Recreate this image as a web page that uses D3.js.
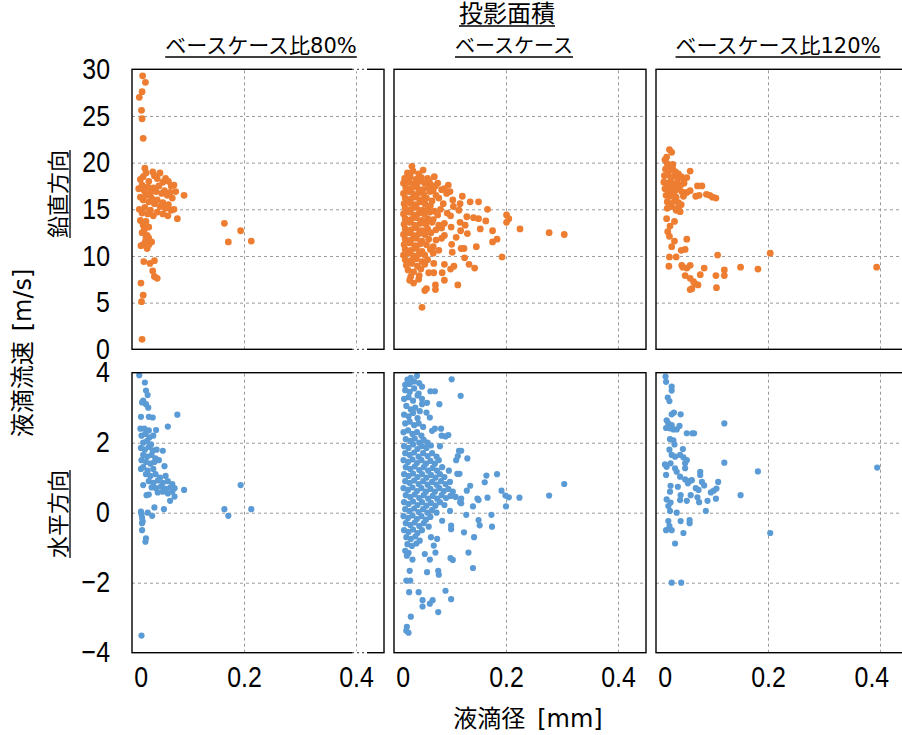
<!DOCTYPE html>
<html>
<head>
<meta charset="utf-8">
<script src="https://cdn.jsdelivr.net/npm/d3@7"></script>
<style>
  body { margin: 0; background: #fff; }
  .tick text { font-family: "Liberation Sans", Arial, sans-serif; font-size: 29px; fill: #000; }
  .grid line { stroke: #9a9a9a; stroke-dasharray: 3,3; }
  .grid path { display: none; }
  .jp { font-family: "DejaVu Sans", "Noto Sans CJK JP", sans-serif; fill: #000; }
</style>
</head>
<body>
<div id="chart"></div>
<script>
// column / row headings
const colTitles = ["ベースケース比80%", "ベースケース", "ベースケース比120%"];
const groupTitle = "投影面積";
const rowTitles = ["鉛直方向", "水平方向"];
const yTitle = "液滴流速";
const yUnit = "[m/s]";
const xTitle = "液滴径";
const xUnit = "[mm]";

const xTicks = [0, 0.2, 0.4];
const vTicks = [0, 5, 10, 15, 20, 25, 30];
const hTicks = [-4, -2, 0, 2, 4];

// droplet diameter [mm], velocity [m/s]
const vert80 = [[0.019,29.3],[0.024,28.6],[0.018,27.6],[0.013,27.0],[0.017,25.6],[0.018,24.7],[0.020,22.6],[0.023,19.4],
  [0.015,18.2],[0.02,18.5],[0.025,18.9],[0.03,18.0],[0.037,19.0],[0.04,18.6],[0.045,18.3],[0.05,18.9],[0.055,17.9],[0.06,18.3],[0.065,18.0],[0.07,17.5],[0.075,17.6],
  [0.012,17.2],[0.018,17.6],[0.022,17.0],[0.028,17.4],[0.033,16.8],[0.038,17.3],[0.043,16.9],[0.048,17.5],[0.053,16.7],[0.058,17.0],[0.063,16.5],[0.068,16.8],[0.072,16.2],[0.078,16.9],[0.093,16.5],
  [0.015,16.3],[0.02,16.0],[0.025,16.5],[0.03,15.8],[0.035,16.2],[0.04,15.6],[0.045,16.0],[0.05,15.3],[0.055,15.7],[0.06,15.1],[0.065,15.5],[0.07,14.9],[0.075,15.0],
  [0.013,15.0],[0.018,14.6],[0.023,15.2],[0.028,14.5],[0.033,14.9],[0.038,14.3],[0.045,14.7],[0.055,14.5],[0.064,14.3],[0.081,14.0],
  [0.015,13.8],[0.02,13.3],[0.025,13.7],[0.03,13.1],[0.022,12.8],[0.018,12.5],[0.027,12.2],[0.03,11.9],[0.024,11.6],[0.02,11.2],[0.016,11.1],[0.027,10.8],[0.03,11.2],[0.035,11.5],[0.025,12.0],
  [0.021,9.4],[0.032,9.2],[0.040,9.5],[0.037,8.4],[0.040,7.8],[0.045,7.6],[0.016,7.1],[0.020,5.8],[0.017,5.1],[0.018,1.07],
  [0.165,13.5],[0.194,12.7],[0.172,11.5],[0.213,11.6]];

const vertBase = [[0.024,18.9],[0.034,19.1],[0.044,18.8],[0.032,19.6],[0.052,19.2],
  [0.019,18.3],[0.029,18.5],[0.039,18.2],[0.049,18.4],[0.06,18.3],[0.072,18.5],[0.063,18.0],
  [0.017,17.8],[0.027,17.9],[0.036,17.7],[0.046,18.0],[0.055,17.8],[0.066,17.6],[0.078,17.8],[0.074,17.5],[0.097,17.6],[0.09,17.2],
  [0.021,17.3],[0.031,17.2],[0.041,17.4],[0.051,17.1],[0.06,17.3],[0.07,17.0],[0.085,17.1],[0.1,16.9],
  [0.017,16.7],[0.026,16.9],[0.035,16.6],[0.044,16.8],[0.053,16.6],[0.064,16.9],[0.075,16.5],[0.094,16.7],[0.122,16.4],
  [0.02,16.2],[0.03,16.1],[0.04,16.3],[0.05,16.0],[0.058,16.2],[0.068,15.9],[0.08,16.2],[0.105,16.0],[0.136,15.8],[0.151,15.8],
  [0.018,15.6],[0.028,15.7],[0.037,15.5],[0.046,15.8],[0.055,15.6],[0.065,15.4],[0.088,15.6],[0.118,15.6],[0.106,15.3],
  [0.02,15.1],[0.03,15.0],[0.04,15.2],[0.05,14.9],[0.06,15.1],[0.072,14.8],[0.083,15.0],[0.167,15.0],[0.116,14.9],
  [0.017,14.5],[0.026,14.7],[0.035,14.4],[0.045,14.6],[0.054,14.5],[0.064,14.7],[0.078,14.4],[0.095,14.6],[0.101,14.3],[0.201,14.4],
  [0.02,14.0],[0.03,13.9],[0.04,14.1],[0.05,13.8],[0.06,14.0],[0.07,13.9],[0.13,14.2],[0.142,14.1],[0.151,14.0],[0.205,14.0],
  [0.018,13.4],[0.028,13.6],[0.037,13.3],[0.047,13.5],[0.057,13.4],[0.068,13.6],[0.08,13.3],[0.09,13.5],[0.118,13.6],[0.127,13.3],[0.164,13.75],[0.201,13.6],
  [0.02,12.9],[0.03,12.8],[0.04,13.0],[0.05,12.7],[0.06,12.9],[0.075,12.8],[0.085,13.0],[0.102,13.1],[0.154,12.9],[0.119,12.7],[0.176,12.7],[0.225,12.9],
  [0.017,12.3],[0.026,12.5],[0.035,12.2],[0.045,12.4],[0.055,12.3],[0.066,12.5],[0.09,12.2],[0.131,12.4],[0.111,12.0],[0.277,12.5],[0.304,12.3],
  [0.02,11.8],[0.03,11.7],[0.04,11.9],[0.05,11.6],[0.062,11.8],[0.075,11.7],[0.085,11.9],[0.184,11.8],[0.176,11.5],[0.103,11.25],
  [0.018,11.2],[0.028,11.4],[0.037,11.1],[0.047,11.3],[0.058,11.2],[0.07,11.0],[0.147,11.0],
  [0.02,10.7],[0.03,10.6],[0.04,10.8],[0.05,10.5],[0.065,10.7],[0.08,10.6],[0.125,10.8],[0.12,10.8],[0.104,10.4],
  [0.017,10.1],[0.026,10.3],[0.035,10.0],[0.045,10.2],[0.055,10.1],[0.07,10.3],[0.193,9.9],[0.126,9.8],
  [0.02,9.6],[0.03,9.5],[0.04,9.7],[0.05,9.4],[0.06,9.6],[0.071,9.2],[0.09,9.1],[0.134,9.1],
  [0.022,9.0],[0.032,9.2],[0.042,8.9],[0.055,9.1],[0.107,8.9],[0.101,8.6],[0.144,8.7],
  [0.025,8.5],[0.035,8.3],[0.048,8.6],[0.062,8.2],[0.071,8.2],[0.086,8.2],
  [0.03,7.8],[0.045,7.9],[0.028,7.4],[0.044,7.5],[0.09,7.4],[0.035,7.1],
  [0.114,6.9],[0.074,6.9],[0.074,6.4],[0.055,6.3],[0.058,6.5],[0.05,4.5]];

const vert120 = [[0.024,21.4],[0.028,21.1],[0.019,20.6],[0.016,20.3],
  [0.02,19.9],[0.025,19.6],[0.03,19.8],[0.017,19.3],[0.023,19.1],[0.03,19.3],[0.035,19.0],[0.04,18.8],[0.061,19.1],
  [0.015,18.6],[0.021,18.7],[0.027,18.4],[0.033,18.6],[0.039,18.3],[0.045,18.5],[0.05,18.2],[0.055,18.4],
  [0.014,17.9],[0.02,17.8],[0.026,18.0],[0.032,17.7],[0.038,17.9],[0.044,17.6],[0.05,17.8],[0.074,17.5],[0.082,17.5],
  [0.016,17.2],[0.022,17.1],[0.028,17.3],[0.034,17.0],[0.04,17.2],[0.046,16.9],[0.061,17.0],[0.055,16.8],
  [0.018,16.5],[0.024,16.4],[0.03,16.6],[0.036,16.3],[0.049,16.4],[0.071,16.4],[0.077,16.5],[0.09,16.6],[0.096,16.5],[0.101,16.3],[0.107,16.2],
  [0.02,15.8],[0.026,15.6],[0.033,15.9],[0.04,15.7],[0.045,15.5],
  [0.02,15.1],[0.028,15.3],[0.036,14.9],[0.043,14.75],[0.04,15.2],
  [0.019,14.0],[0.033,13.7],[0.025,13.2],[0.021,12.6],[0.024,12.1],[0.033,11.6],[0.055,11.8],[0.028,11.0],[0.045,10.6],[0.052,10.7],
  [0.024,9.9],[0.036,9.9],[0.023,8.9],[0.046,9.0],[0.048,8.8],[0.061,9.0],[0.055,8.7],[0.086,8.7],[0.11,10.1],[0.204,10.3],
  [0.151,8.8],[0.182,8.6],[0.394,8.8],[0.122,8.5],[0.122,7.9],[0.107,7.9],[0.108,6.6],[0.079,8.0],[0.075,6.9],[0.052,7.9],
  [0.061,7.6],[0.067,7.25],[0.061,6.4],[0.064,6.5],[0.07,7.0]];

const horiz80 = [[0.013,3.93],[0.023,3.72],[0.025,3.49],[0.028,3.36],[0.02,3.2],[0.025,3.1],[0.029,3.0],[0.018,3.15],[0.03,2.74],[0.037,2.72],[0.016,2.74],[0.081,2.8],[0.064,2.46],
  [0.015,2.4],[0.022,2.4],[0.03,2.35],[0.043,2.36],
  [0.017,2.2],[0.024,2.25],[0.031,2.15],[0.038,2.2],[0.02,2.0],[0.027,2.05],[0.034,1.95],[0.016,1.85],[0.023,1.8],[0.03,1.88],[0.037,1.78],[0.044,1.8],[0.055,1.77],
  [0.02,1.65],[0.027,1.6],[0.035,1.65],[0.042,1.55],[0.017,1.5],[0.025,1.45],[0.033,1.4],[0.04,1.45],[0.048,1.5],[0.058,1.33],[0.02,1.3],[0.016,1.25],[0.028,1.2],[0.038,1.25],
  [0.025,1.1],[0.033,1.05],[0.042,1.1],[0.05,1.0],[0.06,1.05],[0.03,0.9],[0.038,0.85],[0.046,0.92],[0.055,0.85],[0.064,0.9],[0.072,0.82],
  [0.035,0.72],[0.043,0.7],[0.052,0.75],[0.06,0.68],[0.068,0.72],[0.076,0.7],[0.046,0.58],[0.055,0.6],[0.064,0.55],[0.072,0.6],[0.093,0.65],[0.076,0.46],[0.068,0.34],
  [0.026,0.5],[0.03,0.52],[0.02,0.79],
  [0.04,0.15],[0.057,0.1],[0.016,0.03],[0.017,-0.05],[0.018,-0.15],[0.019,-0.25],[0.018,-0.3],[0.028,0.0],[0.036,-0.09],[0.018,-0.5],[0.025,-0.73],[0.024,-0.83],
  [0.017,-3.51],[0.165,0.1],[0.194,0.79],[0.172,-0.09],[0.213,0.1]];

const horizBase = [[0.041,3.91],[0.103,3.81],[0.024,3.8],[0.03,3.85],[0.036,3.75],[0.045,3.7],[0.02,3.65],[0.028,3.68],[0.05,3.6],[0.065,3.47],[0.073,3.47],[0.119,3.34],[0.059,3.14],[0.081,3.1],
  [0.02,3.5],[0.028,3.45],[0.036,3.55],[0.044,3.4],
  [0.018,3.25],[0.026,3.3],[0.034,3.2],[0.042,3.35],[0.05,3.25],
  [0.022,3.05],[0.03,2.95],[0.038,3.0],[0.046,2.9],[0.05,3.1],
  [0.018,2.8],[0.026,2.75],[0.034,2.85],[0.042,2.7],[0.058,2.86],[0.064,2.72],
  [0.02,2.55],[0.028,2.6],[0.036,2.5],[0.044,2.55],[0.052,2.45],
  [0.017,2.3],[0.025,2.35],[0.033,2.25],[0.041,2.3],[0.049,2.2],[0.068,2.34],[0.073,2.4],[0.084,2.4],[0.085,2.2],[0.092,2.18],[0.097,2.22],
  [0.021,2.1],[0.029,2.05],[0.037,2.12],[0.045,2.0],[0.053,2.08],[0.06,2.0],
  [0.018,1.9],[0.026,1.85],[0.034,1.95],[0.042,1.82],[0.05,1.9],[0.058,1.85],[0.066,1.92],[0.082,1.9],
  [0.02,1.7],[0.028,1.65],[0.036,1.72],[0.044,1.6],[0.052,1.7],[0.06,1.62],[0.068,1.7],[0.076,1.6],[0.116,1.77],[0.12,1.77],[0.114,1.62],[0.111,1.5],[0.131,1.55],
  [0.017,1.5],[0.025,1.45],[0.033,1.52],[0.041,1.42],[0.049,1.5],[0.057,1.4],[0.065,1.48],[0.073,1.4],[0.08,1.5],
  [0.021,1.3],[0.029,1.25],[0.037,1.32],[0.045,1.22],[0.053,1.3],[0.061,1.2],[0.069,1.28],[0.077,1.2],[0.086,1.3],[0.098,1.2],
  [0.018,1.1],[0.026,1.05],[0.034,1.12],[0.042,1.02],[0.05,1.1],[0.058,1.0],[0.066,1.08],[0.074,1.0],[0.082,1.1],[0.09,1.02],[0.113,1.11],[0.117,1.11],[0.165,1.06],[0.184,1.1],
  [0.02,0.9],[0.028,0.85],[0.036,0.92],[0.044,0.82],[0.052,0.9],[0.06,0.8],[0.068,0.88],[0.076,0.8],[0.084,0.9],[0.092,0.82],[0.1,0.88],[0.162,0.87],[0.304,0.82],
  [0.017,0.7],[0.025,0.65],[0.033,0.72],[0.041,0.62],[0.049,0.7],[0.057,0.6],[0.065,0.68],[0.073,0.6],[0.081,0.7],[0.089,0.62],[0.097,0.68],[0.105,0.6],[0.136,0.77],[0.13,0.63],[0.192,0.63],
  [0.021,0.5],[0.029,0.45],[0.037,0.52],[0.045,0.42],[0.053,0.5],[0.061,0.4],[0.069,0.48],[0.077,0.4],[0.085,0.5],[0.093,0.42],[0.101,0.48],[0.11,0.45],[0.199,0.49],[0.205,0.44],[0.224,0.43],[0.277,0.49],[0.167,0.43],[0.149,0.4],[0.151,0.36],[0.12,0.4],
  [0.018,0.3],[0.026,0.25],[0.034,0.32],[0.042,0.22],[0.05,0.3],[0.058,0.2],[0.066,0.28],[0.074,0.2],[0.082,0.3],[0.09,0.22],[0.12,0.27],[0.118,0.3],
  [0.02,0.1],[0.028,0.05],[0.036,0.12],[0.044,0.02],[0.052,0.1],[0.06,0.0],[0.068,0.08],[0.076,0.0],[0.1,0.05],[0.141,0.18],[0.2,0.18],
  [0.017,-0.1],[0.025,-0.15],[0.033,-0.08],[0.041,-0.18],[0.049,-0.1],[0.057,-0.2],[0.065,-0.12],[0.129,-0.06],[0.174,-0.06],[0.086,-0.23],
  [0.021,-0.3],[0.029,-0.35],[0.037,-0.28],[0.045,-0.38],[0.053,-0.3],[0.062,-0.4],[0.151,-0.21],[0.153,-0.36],[0.175,-0.4],[0.102,-0.37],[0.102,-0.47],
  [0.018,-0.5],[0.026,-0.55],[0.034,-0.48],[0.042,-0.58],[0.05,-0.5],[0.125,-0.56],
  [0.022,-0.7],[0.03,-0.75],[0.038,-0.68],[0.046,-0.8],[0.066,-0.7],[0.077,-0.75],[0.143,-0.7],
  [0.024,-0.9],[0.032,-0.95],[0.04,-0.88],[0.071,-0.94],
  [0.02,-1.09],[0.026,-1.15],[0.033,-1.34],[0.074,-1.14],[0.064,-1.34],[0.055,-1.18],[0.133,-1.14],[0.101,-1.3],[0.105,-1.35],[0.023,-1.23],
  [0.141,-1.58],[0.079,-1.66],[0.08,-1.77],[0.059,-1.7],[0.028,-1.66],[0.022,-1.94],[0.029,-1.94],[0.027,-2.27],[0.044,-2.27],[0.092,-2.23],
  [0.102,-2.47],[0.051,-2.5],[0.051,-2.68],[0.064,-2.6],[0.069,-2.5],[0.079,-2.84],[0.03,-2.97],[0.023,-3.26],[0.022,-3.37],[0.026,-3.43]];

const horiz120 = [[0.017,3.89],[0.018,3.74],[0.028,3.6],[0.028,3.49],[0.021,3.29],[0.024,3.19],[0.028,2.81],[0.032,2.86],[0.044,2.81],
  [0.019,2.64],[0.022,2.55],[0.018,2.42],[0.025,2.41],[0.031,2.38],[0.037,2.38],[0.042,2.48],[0.028,2.5],[0.122,2.55],[0.055,2.27],[0.065,2.27],[0.068,2.27],
  [0.025,2.1],[0.031,2.07],[0.033,1.95],[0.048,1.82],[0.024,1.8],[0.028,1.65],[0.034,1.6],[0.043,1.65],[0.049,1.58],[0.055,1.5],[0.052,1.41],
  [0.016,1.38],[0.019,1.31],[0.026,1.41],[0.034,1.27],[0.037,1.17],[0.052,1.27],[0.018,1.08],[0.122,1.43],[0.182,1.18],[0.395,1.29],[0.079,1.17],[0.079,1.08],
  [0.043,1.03],[0.052,0.95],[0.061,0.91],[0.064,0.93],[0.057,0.84],[0.082,0.88],[0.086,0.78],[0.111,0.88],[0.108,0.69],[0.103,0.63],[0.098,0.58],
  [0.026,0.77],[0.025,0.6],[0.039,0.74],[0.071,0.7],[0.076,0.65],[0.062,0.5],[0.044,0.5],[0.074,0.44],[0.077,0.3],[0.043,0.36],[0.055,0.34],[0.092,0.34],[0.107,0.4],[0.151,0.5],
  [0.019,0.38],[0.026,0.29],[0.022,0.19],[0.025,0.05],[0.037,0.0],[0.089,0.05],[0.044,-0.24],[0.06,-0.21],[0.06,-0.3],[0.022,-0.24],[0.024,-0.38],
  [0.018,-0.5],[0.028,-0.5],[0.049,-0.58],[0.204,-0.58],[0.034,-0.88],[0.028,-2.0],[0.045,-2.0]];

const vertSets = [vert80, vertBase, vert120];
const horizSets = [horiz80, horizBase, horiz120];
const vertColor = "#ED7D31", horizColor = "#5B9BD5";

window.onload = () => {
  var W = 902, H = 735,
    panelX = [132, 394, 656],
    panelW = 252,
    rowY = [69.3, 372.7],
    panelH = 280;

  var svg = d3.select("#chart").append("svg")
    .attr("width", W)
    .attr("height", H);

  var x = d3.scaleLinear().domain([0, 0.45]).range([0, panelW]);
  var yV = d3.scaleLinear().domain([0, 30]).range([panelH, 0]);
  var yH = d3.scaleLinear().domain([-4, 4]).range([panelH, 0]);

  var rows = [
    { y: yV, ticks: vTicks, sets: vertSets, color: vertColor, r: 3.4 },
    { y: yH, ticks: hTicks, sets: horizSets, color: horizColor, r: 3.1 }
  ];

  // squeeze tick digits horizontally (narrow face)
  function narrow(sel) {
    sel.each(function() {
      var t = d3.select(this);
      var tx = +t.attr("x") || 0;
      t.attr("x", 0).attr("transform", "translate(" + tx + ",0) scale(0.86,1)");
    });
  }

  rows.forEach((row, ri) => {
    panelX.forEach((px, ci) => {
      var g = svg.append("g").attr("transform", "translate(" + px + "," + rowY[ri] + ")");

      // dashed grid
      g.append("g").attr("class", "grid")
        .call(d3.axisLeft(row.y).tickValues(row.ticks.slice(1, -1)).tickSize(-panelW).tickFormat(""));
      g.append("g").attr("class", "grid")
        .attr("transform", "translate(0," + panelH + ")")
        .call(d3.axisBottom(x).tickValues(xTicks.slice(1)).tickSize(panelH).tickFormat(""))
        .selectAll("line").attr("y2", -panelH);

      // points
      g.append("g").selectAll("circle")
        .data(row.sets[ci])
        .join("circle")
        .attr("cx", d => x(d[0]))
        .attr("cy", d => row.y(d[1]))
        .attr("r", row.r)
        .attr("fill", row.color);

      // frame
      g.append("rect")
        .attr("width", panelW).attr("height", panelH)
        .attr("fill", "none").attr("stroke", "#000").attr("stroke-width", 1.4);

      // axis-break marks on the first column
      if (ci == 0) {
        [0, panelH].forEach(yy => {
          g.append("rect").attr("x", 220).attr("y", yy - 2).attr("width", 15).attr("height", 4).attr("fill", "#fff");
          g.append("line").attr("x1", 220).attr("x2", 235).attr("y1", yy).attr("y2", yy)
            .attr("stroke", "#555").attr("stroke-width", 1.2).attr("stroke-dasharray", "2,3");
        });
      }

      // y labels only on the left column
      if (ci == 0) {
        var ya = g.append("g").call(d3.axisLeft(row.y).tickValues(row.ticks).tickSize(0).tickPadding(22));
        ya.select(".domain").remove();
        narrow(ya.selectAll("text"));
      }

      // x labels on the bottom row
      if (ri == 1) {
        var xa = g.append("g")
          .attr("transform", "translate(0," + panelH + ")")
          .call(d3.axisBottom(x).tickValues(xTicks).tickSize(0).tickPadding(14).tickFormat(d3.format("")));
        xa.select(".domain").remove();
        xa.selectAll("text").attr("dx", (d, i) => i == 0 ? 10 : (ci == 2 && i == 2 ? -10 : 0));
        narrow(xa.selectAll("text"));
      }
    });
  });

  // underlined label helper
  function label(parent, text, cls, size, tx, ty, rotate) {
    var g = parent.append("g").attr("transform", "translate(" + tx + "," + ty + ")" + (rotate ? " rotate(-90)" : ""));
    var t = g.append("text").attr("class", cls).attr("text-anchor", "middle")
      .style("font-size", size + "px").text(text);
    var w = t.node().getComputedTextLength();
    g.append("line").attr("x1", -w / 2).attr("x2", w / 2).attr("y1", 4).attr("y2", 4)
      .attr("stroke", "#000").attr("stroke-width", 1.3);
    return g;
  }

  // column titles
  label(svg, colTitles[0], "jp", 21, 261, 53);
  label(svg, colTitles[1], "jp", 20, 514, 53);
  label(svg, colTitles[2], "jp", 21, 778, 53);
  label(svg, groupTitle, "jp", 24, 507, 22);

  // row titles
  label(svg, rowTitles[0], "jp", 22, 66, 194, true);
  label(svg, rowTitles[1], "jp", 22, 66, 514, true);

  // y axis title
  var yt = svg.append("text").attr("class", "jp")
    .attr("transform", "translate(31,353) rotate(-90)")
    .attr("text-anchor", "middle")
    .style("font-size", "24px");
  yt.append("tspan").text(yTitle);
  yt.append("tspan").attr("dx", 10).text(yUnit);

  // x axis title
  var xt = svg.append("text").attr("class", "jp")
    .attr("x", 528).attr("y", 727)
    .attr("text-anchor", "middle")
    .style("font-size", "24px");
  xt.append("tspan").text(xTitle);
  xt.append("tspan").attr("dx", 12).text(xUnit);
};
</script>
</body>
</html>
